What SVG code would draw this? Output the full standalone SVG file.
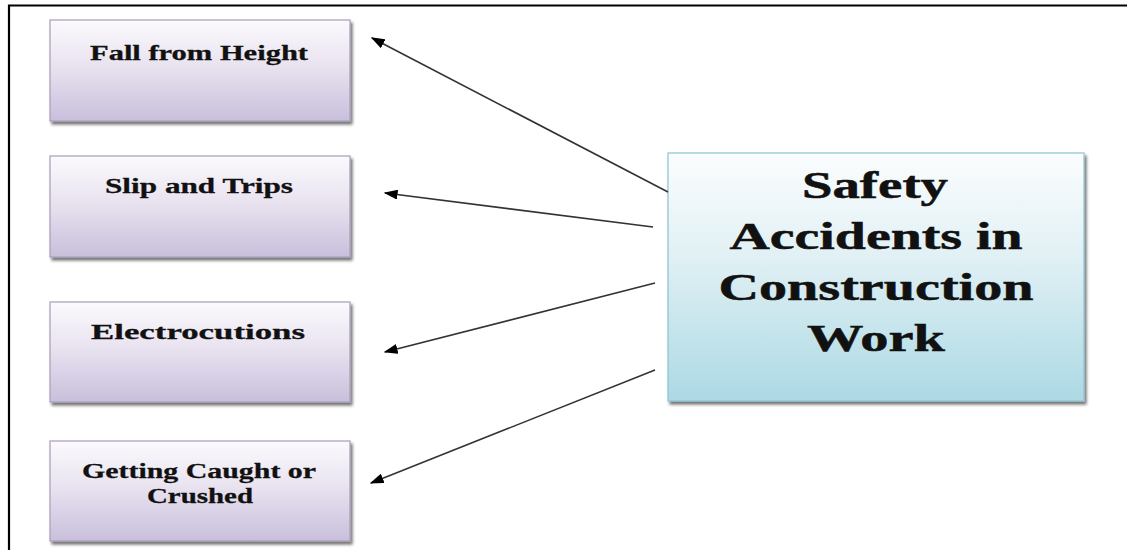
<svg xmlns="http://www.w3.org/2000/svg" width="1127" height="550" viewBox="0 0 1127 550">
<defs>
<linearGradient id="gp" x1="0" y1="0" x2="0" y2="1">
<stop offset="0" stop-color="#fbfafd"/>
<stop offset="0.45" stop-color="#e9e3f0"/>
<stop offset="1" stop-color="#c9bfdc"/>
</linearGradient>
<linearGradient id="gb" x1="0" y1="0" x2="0" y2="1">
<stop offset="0" stop-color="#fbfdfe"/>
<stop offset="0.4" stop-color="#e2f1f5"/>
<stop offset="1" stop-color="#acd9e4"/>
</linearGradient>
<filter id="sh" x="-5%" y="-5%" width="112%" height="115%">
<feGaussianBlur in="SourceAlpha" stdDeviation="1.5"/>
<feOffset dx="2" dy="2.5" result="b"/>
<feComponentTransfer><feFuncA type="linear" slope="0.55"/></feComponentTransfer>
<feMerge><feMergeNode/><feMergeNode in="SourceGraphic"/></feMerge>
</filter>
<marker id="ah" viewBox="0 0 10 10" refX="9" refY="5" markerWidth="14" markerHeight="10" markerUnits="userSpaceOnUse" orient="auto" preserveAspectRatio="none">
<path d="M0,0 L10,5 L0,10 z" fill="#000"/>
</marker>
</defs>
<style>
.sb{fill:url(#gp);stroke:#a79dba;stroke-width:1.2;filter:url(#sh)}
.cb{fill:url(#gb);stroke:#8cc3d1;stroke-width:1.2;filter:url(#sh)}
.t{font-family:"Liberation Serif","Times New Roman",serif;font-weight:bold;fill:#111;stroke:#111;stroke-width:0.3;text-anchor:middle}
.s{font-size:22px}
.c{font-size:38px;stroke-width:0.5}
.ln{stroke:#333;stroke-width:1.6;fill:none;marker-end:url(#ah)}
</style>
<rect x="0" y="0" width="1127" height="550" fill="#fff"/>
<path d="M9,550 L9,5.5 L1127,5.5" fill="none" stroke="#000" stroke-width="2.2"/>
<g id="n1">
<rect class="sb" x="50" y="20" width="300" height="101"/>
<text class="t s" x="199" y="60" textLength="218" lengthAdjust="spacingAndGlyphs">Fall from Height</text>
</g>
<g id="n2">
<rect class="sb" x="50" y="156" width="300" height="101"/>
<text class="t s" x="199" y="193" textLength="188" lengthAdjust="spacingAndGlyphs">Slip and Trips</text>
</g>
<g id="n3">
<rect class="sb" x="50" y="302" width="300" height="100"/>
<text class="t s" x="198" y="339" textLength="214" lengthAdjust="spacingAndGlyphs">Electrocutions</text>
</g>
<g id="n4">
<rect class="sb" x="50" y="441" width="300" height="100"/>
<text class="t s" x="199" y="478" textLength="234" lengthAdjust="spacingAndGlyphs">Getting Caught or</text>
<text class="t s" x="200" y="503" textLength="106" lengthAdjust="spacingAndGlyphs">Crushed</text>
</g>
<g id="center">
<rect class="cb" x="668" y="153" width="416" height="248"/>
<text class="t c" x="875" y="198" textLength="146" lengthAdjust="spacingAndGlyphs">Safety</text>
<text class="t c" x="876" y="249" textLength="293" lengthAdjust="spacingAndGlyphs">Accidents in</text>
<text class="t c" x="876" y="300" textLength="315" lengthAdjust="spacingAndGlyphs">Construction</text>
<text class="t c" x="876" y="351" textLength="138" lengthAdjust="spacingAndGlyphs">Work</text>
</g>
<g id="connectors">
<line class="ln" x1="668" y1="192" x2="372" y2="38"/>
<line class="ln" x1="653" y1="227" x2="385" y2="193"/>
<line class="ln" x1="655" y1="283" x2="385" y2="352"/>
<line class="ln" x1="655" y1="370" x2="371" y2="483"/>
</g>
</svg>
